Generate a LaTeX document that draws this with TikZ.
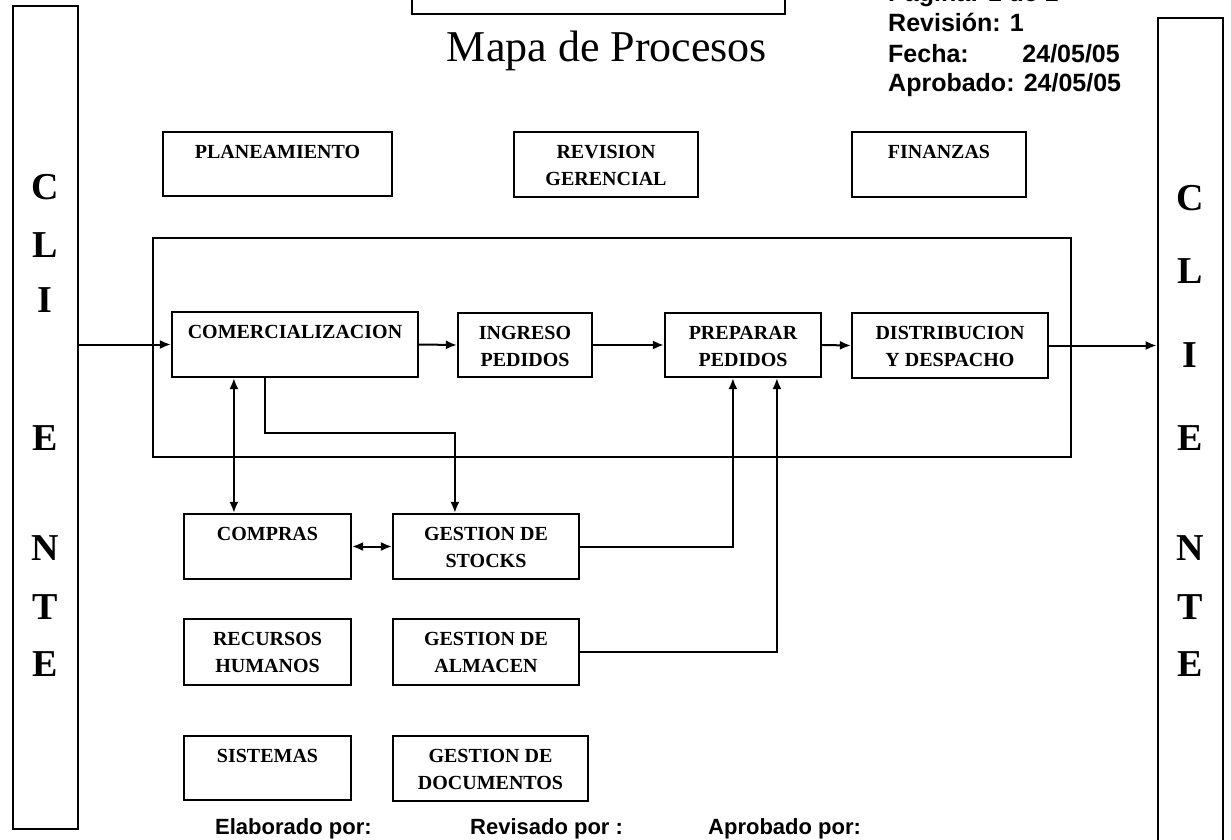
\documentclass[tikz,border=0pt]{standalone}
\usepackage{fontspec}
\setmainfont{Liberation Serif}
\newfontfamily\infofont{Liberation Sans}
\usetikzlibrary{arrows.meta,calc}

\tikzset{
  pbox/.style={draw=black, line width=2.2pt, rectangle, inner sep=0pt},
  frame/.style={draw=black, line width=1.8pt},
  client/.style={draw=black, line width=2.8pt, rectangle, inner sep=0pt},
  ptext/.style={font=\bfseries\fontsize{20}{27}\selectfont, align=center, inner sep=0pt, anchor=north},
  letter/.style={font=\bfseries\fontsize{38}{38}\selectfont, inner sep=0pt},
  info/.style={font=\infofont\bfseries\fontsize{25}{30}\selectfont, inner sep=0pt, anchor=base west},
  sign/.style={font=\infofont\bfseries\fontsize{22}{26}\selectfont, inner sep=0pt, anchor=base west},
  tip/.tip={Latex[length=11pt,width=9pt]},
  arr/.style={draw=black, line width=2pt, -tip},
  darr/.style={draw=black, line width=2pt, tip-tip}
}

% process box: name, x1, y1, x2, y2, label (text sits near the top edge)
\newcommand{\procbox}[6]{%
  \node[pbox, minimum width={#4-#2}, minimum height={#5-#3}] (#1) at ({(#2+#4)/2},{(#3+#5)/2}) {};
  \node[ptext] (#1-t) at ($(#1.north)+(0,14)$) {#6};
}

\begin{document}
\begin{tikzpicture}[x=1pt, y=-1pt]
\useasboundingbox (0,0) rectangle (1231,840);
\clip (0,0) rectangle (1231,840);

% heading box and title
\node[pbox, minimum width=373, minimum height=60] (head) at (598.5,-16) {};
\node[font=\fontsize{44}{44}\selectfont, inner sep=0pt, anchor=base] (title) at (607,62) {Mapa de Procesos};

% document data
\node[info] (pag) at (888,2) {Página: 1 de 1};
\node[info] (rev) at (888,32) {Revisión: 1};
\node[info] (fec) at (888,63) {Fecha:};
\node[info, anchor=base east] (fecv) at (1120,63) {24/05/05};
\node[info] (apr) at (888,92) {Aprobado: 24/05/05};

% client columns
\node[client, minimum width=65, minimum height=823] (cl1) at (45.5,417.5) {};
\node[client, minimum width=65, minimum height=830] (cl2) at (1190.5,433) {};
\foreach \ch/\yy [count=\i] in {C/187, L/245, I/300, E/438, N/548, T/607, E/664}
  \node[letter] (l\i) at (45,\yy) {\ch};
\foreach \ch/\yy [count=\i] in {C/198, L/271, I/355, E/438, N/548, T/607, E/664}
  \node[letter] (r\i) at (1190,\yy) {\ch};

% strategic processes
\procbox{plan}{163}{132}{392}{196}{PLANEAMIENTO}
\procbox{revg}{514}{132}{698}{197}{REVISION\\GERENCIAL}
\procbox{fin}{852}{132}{1026}{197}{FINANZAS}

% core chain frame
\draw[frame] (153,238) rectangle (1071,457);
\procbox{com}{172}{312}{418}{377}{COMERCIALIZACION}
\procbox{ing}{458}{313}{592}{377}{INGRESO\\PEDIDOS}
\procbox{prep}{665}{313}{821}{377}{PREPARAR\\PEDIDOS}
\procbox{dist}{852}{313}{1048}{378}{DISTRIBUCION\\Y DESPACHO}

% support processes
\procbox{comp}{184}{514}{351}{579}{COMPRAS}
\procbox{stock}{393}{514}{579}{579}{GESTION DE\\STOCKS}
\procbox{rrhh}{184}{619}{351}{685}{RECURSOS\\HUMANOS}
\procbox{alm}{393}{619}{579}{685}{GESTION DE\\ALMACEN}
\procbox{sis}{184}{736}{351}{800}{SISTEMAS}
\procbox{doc}{393}{736}{588}{801}{GESTION DE\\DOCUMENTOS}

% signatures
\node[sign] (ela) at (215,834) {Elaborado por:};
\node[sign] (rvs) at (470,834) {Revisado por :};
\node[sign] (apb) at (708,834) {Aprobado por:};

% main flow
\draw[arr] (com.west -| cl1.east) -- (com.west);
\draw[arr] (com.east) -- (ing.west);
\draw[arr] (ing.east) -- (prep.west);
\draw[arr] (prep.east) -- (dist.west);
\draw[arr] (dist.east) -- (dist.east -| cl2.west);

% support links
\coordinate (c1) at ($(com.south west)+(63,0)$);
\draw[darr] (c1) -- (c1 |- comp.north);
\coordinate (c2) at ($(com.south west)+(94,0)$);
\coordinate (s1) at ($(stock.north west)+(63,0)$);
\draw[arr] (c2) -- ($(c2)+(0,55)$) -| (s1);
\draw[darr] (comp.east) -- (stock.west);
\draw[arr] (stock.east) -| ($(prep.south west)+(69,0)$);
\draw[arr] (alm.east) -| ($(prep.south west)+(113,0)$);
\end{tikzpicture}
\end{document}
